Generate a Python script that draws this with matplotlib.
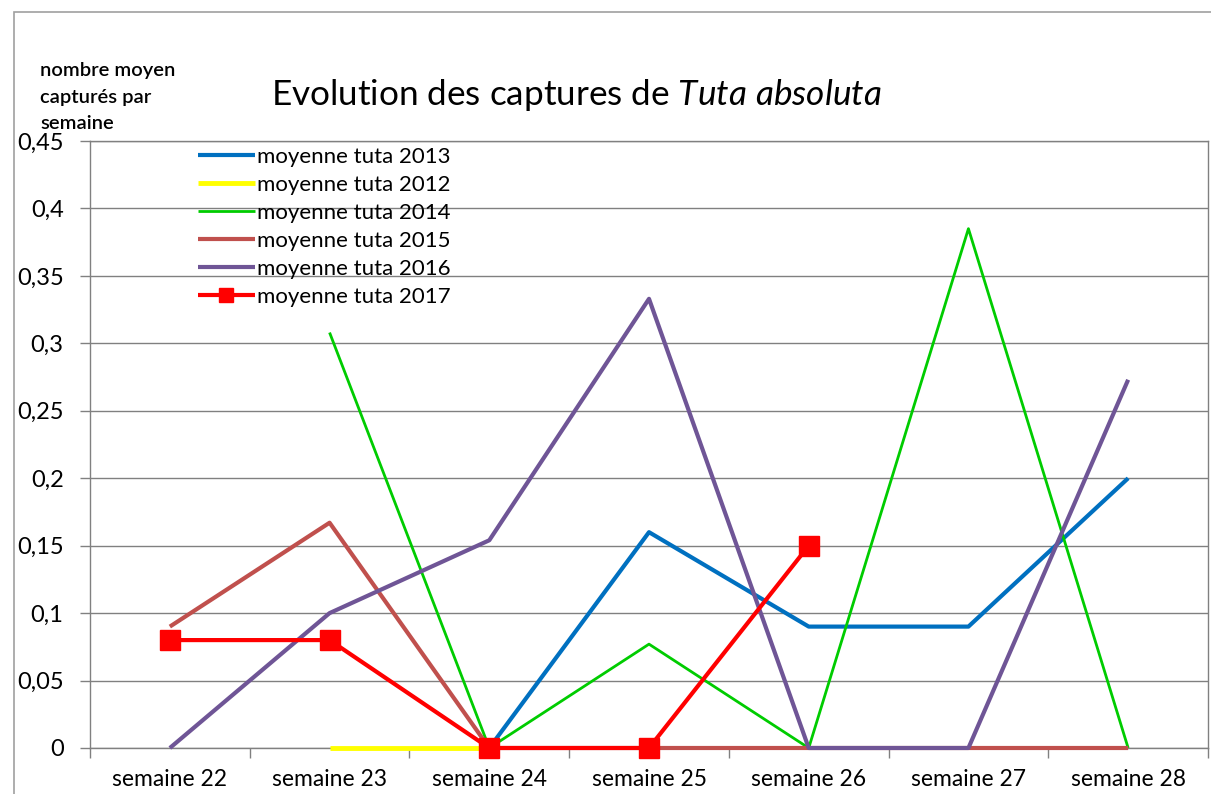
import matplotlib
matplotlib.use("Agg")
import matplotlib.pyplot as plt
import numpy as np
from matplotlib.patches import Rectangle

plt.rcParams['font.family'] = ['Lato', 'DejaVu Sans']
plt.rcParams['mathtext.fontset'] = 'custom'
plt.rcParams['mathtext.it'] = 'Lato:italic'
plt.rcParams['mathtext.rm'] = 'Lato'

weeks = ["semaine 22", "semaine 23", "semaine 24", "semaine 25",
         "semaine 26", "semaine 27", "semaine 28"]
nan = np.nan
tuta_2013 = [nan, nan, 0.0, 0.16, 0.09, 0.09, 0.20]
tuta_2012 = [nan, 0.0, 0.0, nan, nan, nan, nan]
tuta_2014 = [nan, 0.308, 0.0, 0.077, 0.0, 0.385, 0.0]
tuta_2015 = [0.09, 0.167, 0.0, 0.0, 0.0, 0.0, 0.0]
tuta_2016 = [0.0, 0.1, 0.154, 0.333, 0.0, 0.0, 0.273]
tuta_2017 = [0.08, 0.08, 0.0, 0.0, 0.15, nan, nan]
yticks = [0, 0.05, 0.1, 0.15, 0.2, 0.25, 0.3, 0.35, 0.4, 0.45]
ytick_labels = ["0", "0,05", "0,1", "0,15", "0,2", "0,25", "0,3", "0,35", "0,4", "0,45"]

fig = plt.figure(figsize=(12.11, 7.94), dpi=100)
ax = fig.add_axes([90/1211, 1-748/794, 1118/1211, (748-141)/794])

x = np.arange(len(weeks))
kw = dict(clip_on=False, solid_capstyle="butt", zorder=3)
ax.plot(x, tuta_2013, color="#0070C0", lw=3.0, label="moyenne tuta 2013", **kw)
ax.plot(x, tuta_2012, color="#FFFF00", lw=3.5, label="moyenne tuta 2012", **kw)
ax.plot(x, tuta_2014, color="#00CC00", lw=2.0, label="moyenne tuta 2014", **kw)
ax.plot(x, tuta_2015, color="#C0504D", lw=3.0, label="moyenne tuta 2015", **kw)
ax.plot(x, tuta_2016, color="#6F5596", lw=3.0, label="moyenne tuta 2016", **kw)
ax.plot(x, tuta_2017, color="#FF0000", lw=3.0, marker="s", markersize=14,
        label="moyenne tuta 2017", **kw)

ax.set_xlim(-0.5, len(weeks) - 0.5)
ax.set_ylim(0, 0.45)
ax.set_yticks(yticks)
ax.set_yticklabels(ytick_labels, fontsize=17)
ax.set_xticks(x)
ax.set_xticklabels(weeks, fontsize=16.5)
ax.set_xticks(np.arange(len(weeks) + 1) - 0.5, minor=True)
ax.tick_params(axis='x', which='major', length=0, pad=15)
ax.tick_params(axis='x', which='minor', length=7, color="#808080", width=1)
ax.tick_params(axis='y', length=7, color="#808080", width=1, pad=12)
ax.grid(axis='y', color="#808080", lw=1)
ax.set_axisbelow(True)
for s in ax.spines.values():
    s.set_color("#808080")
    s.set_linewidth(1)

leg = ax.legend(loc="upper left", bbox_to_anchor=(108/1118, 1.0 - 6/607), frameon=False,
                fontsize=16, handlelength=2.55, handletextpad=0.12,
                labelspacing=0.36, borderaxespad=0, borderpad=0, markerscale=0.7)

fig.text(576/1211, 1-95/794, "Evolution des captures de $\\it{Tuta\\ absoluta}$",
         fontsize=25.3, ha="center", va="center")
fig.text(40/1211, 1-62/794, "nombre moyen\ncapturés par\nsemaine", fontsize=14.5,
         ha="left", va="top", linespacing=1.68, fontweight="semibold")

fig.patches.append(Rectangle((14/1211, -0.1), 1.2, 1.1-12/794, transform=fig.transFigure,
                             fill=False, edgecolor="#A0A0A0", lw=1.2))

fig.savefig("out.png", dpi=100)
